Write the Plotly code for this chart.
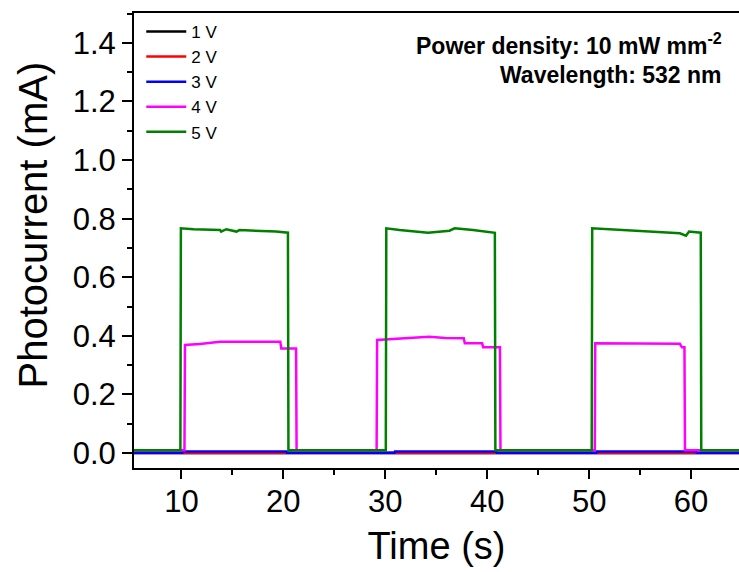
import plotly.graph_objects as go

# ---- data ----
t_1v = [5.0, 65.0]
i_1v = [0.0, 0.0]

t_2v = [5.0, 65.0]
i_2v = [0.0, 0.0]

t_3v = [5.0, 10.1, 10.15, 20.3, 20.35, 30.9, 30.95, 40.9, 40.95, 50.7, 50.75, 60.5, 60.55, 65.0]
i_3v = [0.001, 0.001, 0.005, 0.005, 0.001, 0.001, 0.005, 0.005, 0.001, 0.001, 0.005, 0.005, 0.001, 0.001]

t_4v = [5.0, 10.3, 10.35, 11.8, 13.8, 19.7, 19.8, 21.25, 21.3,
        29.15, 29.2, 31.5, 34.3, 35.9, 37.7, 37.8, 39.5, 39.6, 41.25, 41.3,
        50.55, 50.6, 55.0, 58.9, 59.1, 59.35, 59.4, 65.0]
i_4v = [0.010, 0.010, 0.369, 0.372, 0.380, 0.380, 0.357, 0.357, 0.010,
        0.010, 0.386, 0.392, 0.397, 0.393, 0.392, 0.375, 0.375, 0.361, 0.361, 0.010,
        0.010, 0.375, 0.373, 0.373, 0.361, 0.361, 0.010, 0.010]

t_5v = [5.0, 9.9, 9.95, 11.2, 13.8, 13.9, 14.4, 15.4, 15.7, 17.7, 19.3, 20.45, 20.5,
        30.05, 30.1, 31.4, 34.2, 36.3, 36.8, 38.6, 40.7, 40.75, 40.8,
        50.25, 50.3, 55.0, 58.9, 59.5, 59.8, 60.95, 61.0, 65.0]
i_5v = [0.010, 0.010, 0.767, 0.764, 0.761, 0.756, 0.764, 0.756, 0.761, 0.759, 0.756, 0.752, 0.010,
        0.010, 0.767, 0.761, 0.752, 0.759, 0.767, 0.761, 0.752, 0.752, 0.010,
        0.010, 0.767, 0.759, 0.750, 0.742, 0.756, 0.752, 0.010, 0.010]

series_names = ["1 V", "2 V", "3 V", "4 V", "5 V"]
series_colors = ["#000000", "#FF0000", "#0000FF", "#FF00FF", "#008000"]

x_ticks = [10, 20, 30, 40, 50, 60]
y_ticks = [0.0, 0.2, 0.4, 0.6, 0.8, 1.0, 1.2, 1.4]

FONT = "Arial, Liberation Sans, Helvetica, sans-serif"

fig = go.Figure()
for name, color, tx, iy in zip(series_names, series_colors,
                               [t_1v, t_2v, t_3v, t_4v, t_5v],
                               [i_1v, i_2v, i_3v, i_4v, i_5v]):
    fig.add_trace(go.Scatter(x=tx, y=iy, mode="lines", name=name,
                             line=dict(color=color, width=2.5)))

fig.update_layout(
    width=739, height=572,
    margin=dict(l=134, r=0, t=13, b=104),
    paper_bgcolor="white", plot_bgcolor="white",
    font=dict(family=FONT, color="black"),
    showlegend=True,
    legend=dict(x=0.012, y=0.998, xanchor="left", yanchor="top",
                bgcolor="rgba(0,0,0,0)", font=dict(size=17, family=FONT),
                itemwidth=40, tracegroupgap=0),
    xaxis=dict(range=[5.35, 64.7], tickvals=x_ticks, ticks="outside", ticklen=9, tickwidth=2,
               tickcolor="black", showline=True, linewidth=2, linecolor="black", mirror=True,
               showgrid=False, zeroline=False, tickfont=dict(size=31, family=FONT),
               ticklabelstandoff=-4,
               minor=dict(dtick=5, tick0=5, ticks="outside", ticklen=5, tickwidth=2, tickcolor="black"),
               title=dict(text="Time (s)", font=dict(size=38, family=FONT), standoff=14)),
    yaxis=dict(range=[-0.051, 1.502], tickvals=y_ticks, tickformat=".1f", ticks="outside",
               ticklen=10, tickwidth=2, tickcolor="black", showline=True, linewidth=2,
               linecolor="black", showgrid=False, zeroline=False,
               tickfont=dict(size=31, family=FONT),
               minor=dict(dtick=0.1, tick0=0, ticks="outside", ticklen=5, tickwidth=2, tickcolor="black")),
)

# y-axis title (placed to match the reference's off-centre position)
fig.add_annotation(xref="paper", yref="paper", x=-0.167, y=0.535, xanchor="center", yanchor="middle",
                   text="Photocurrent (mA)", textangle=-90, showarrow=False,
                   font=dict(size=40, family=FONT))

fig.add_annotation(xref="paper", yref="paper", x=0.975, y=0.932, xanchor="right", yanchor="middle",
                   text="<b>Power density: 10 mW mm<sup>-2</sup></b>", showarrow=False,
                   font=dict(size=23, family=FONT))
fig.add_annotation(xref="paper", yref="paper", x=0.975, y=0.864, xanchor="right", yanchor="middle",
                   text="<b>Wavelength: 532 nm</b>", showarrow=False,
                   font=dict(size=23, family=FONT))

fig.write_html("out.html", config={"displayModeBar": False},
               post_script="document.body.style.margin='0';document.body.style.overflow='hidden';")
